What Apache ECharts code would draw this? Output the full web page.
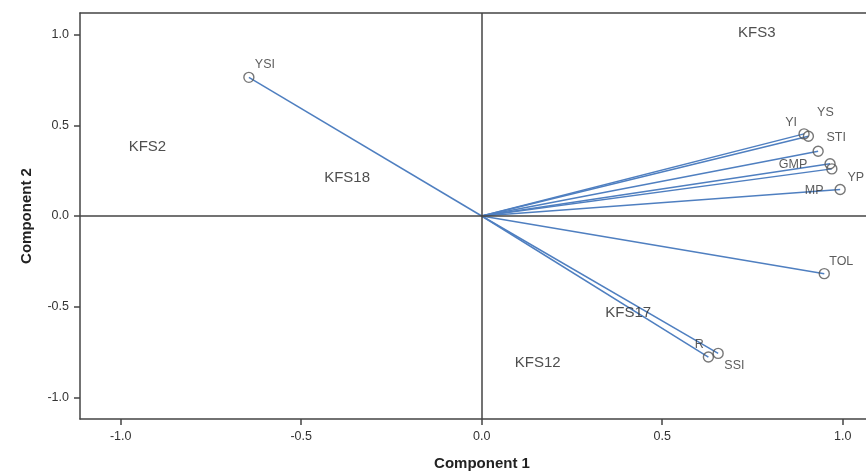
<!DOCTYPE html>
<html>
<head>
<meta charset="utf-8">
<script src="https://cdn.jsdelivr.net/npm/echarts@6/dist/echarts.min.js"></script>
<style>
html,body{margin:0;padding:0;background:#fff;}
#c{width:866px;height:472px;}
</style>
</head>
<body>
<div id="c"></div>
<script>
// Variable loadings (Component 1, Component 2)
const variables = ['YSI', 'YI', 'YS', 'STI', 'GMP', 'YP', 'MP', 'TOL', 'R', 'SSI'];
const comp1 = [-0.645, 0.893, 0.905, 0.932, 0.965, 0.970, 0.993, 0.949, 0.655, 0.628];
const comp2 = [0.765, 0.453, 0.440, 0.357, 0.288, 0.260, 0.146, -0.318, -0.758, -0.778];

// Genotype labels
const genotypes = ['KFS3', 'KFS2', 'KFS18', 'KFS17', 'KFS12'];
const genoX = [0.762, -0.926, -0.373, 0.406, 0.155];
const genoY = [1.013, 0.382, 0.213, -0.534, -0.809];

// Tick labels
const tickValues = [-1.0, -0.5, 0.0, 0.5, 1.0];

// label placement (style only, pixel offsets)
const labelOffsets = {
  YSI: [16, -13], YI: [-13, -11], YS: [17, -24], STI: [18, -14], GMP: [-37, 1],
  YP: [24, 9], MP: [-26, 1], TOL: [17, -12], R: [-19, -9], SSI: [26, 9]
};

const FONT = '"Liberation Sans", Arial, sans-serif';
const AXC = '#444';

const chart = echarts.init(document.getElementById('c'));

const vectorLines = variables.map((v, i) => ({ coords: [[0, 0], [comp1[i], comp2[i]]] }));
const pointData = variables.map((v, i) => ({
  name: v,
  value: [comp1[i], comp2[i]],
  label: { offset: labelOffsets[v] }
}));
const genoData = genotypes.map((g, i) => ({ name: g, value: [genoX[i], genoY[i]] }));

const axisCommon = {
  type: 'value',
  axisLine: { show: true, onZero: false, lineStyle: { color: AXC, width: 1.5 } },
  axisTick: { show: true, inside: false, length: 6, customValues: tickValues, lineStyle: { color: AXC, width: 1.5 } },
  axisLabel: {
    customValues: tickValues,
    formatter: v => Number(v).toFixed(1),
    color: '#333', fontSize: 12.5, fontFamily: FONT, margin: 11
  },
  splitLine: { show: false },
  nameLocation: 'middle',
  nameTextStyle: { fontFamily: FONT, fontWeight: 'bold', fontSize: 15, color: '#222' }
};

const X_MIN = -1.1128, X_MAX = 1.0646;

chart.setOption({
  animation: false,
  backgroundColor: '#fff',
  grid: { left: 80, top: 13, right: 0, bottom: 53, show: false, outerBoundsMode: 'none', containLabel: false },
  xAxis: [
    Object.assign({}, axisCommon, {
      min: X_MIN, max: X_MAX, position: 'bottom',
      name: 'Component 1', nameGap: 37,
      nameTextStyle: Object.assign({}, axisCommon.nameTextStyle, { padding: [0, 0, 0, 18] })
    }),
    {
      type: 'value', min: X_MIN, max: X_MAX, position: 'top',
      axisLine: { show: true, onZero: false, lineStyle: { color: AXC, width: 1.5 } },
      axisTick: { show: false }, axisLabel: { show: false }, splitLine: { show: false }
    }
  ],
  yAxis: Object.assign({}, axisCommon, {
    min: -1.12, max: 1.12, position: 'left',
    name: 'Component 2', nameGap: 46
  }),
  series: [
    {
      type: 'line',
      data: [],
      silent: true,
      markLine: {
        silent: true, symbol: 'none', label: { show: false },
        lineStyle: { color: AXC, width: 1.5, type: 'solid' },
        data: [{ xAxis: 0 }, { yAxis: 0 }]
      }
    },
    {
      type: 'lines',
      coordinateSystem: 'cartesian2d',
      silent: true,
      lineStyle: { color: '#4f7fc0', width: 1.5, opacity: 1 },
      data: vectorLines,
      z: 3
    },
    {
      type: 'scatter',
      symbol: 'circle',
      symbolSize: 10,
      itemStyle: { color: 'rgba(255,255,255,0)', borderColor: '#555', borderWidth: 1.4 },
      label: {
        show: true, position: 'inside', formatter: p => p.name,
        color: '#333', fontSize: 12.5, fontFamily: FONT
      },
      data: pointData,
      z: 4
    },
    {
      type: 'scatter',
      symbolSize: 0,
      label: {
        show: true, position: 'inside', formatter: p => p.name,
        color: '#222', fontSize: 15, fontFamily: FONT
      },
      data: genoData,
      z: 5
    }
  ]
});
</script>
</body>
</html>
